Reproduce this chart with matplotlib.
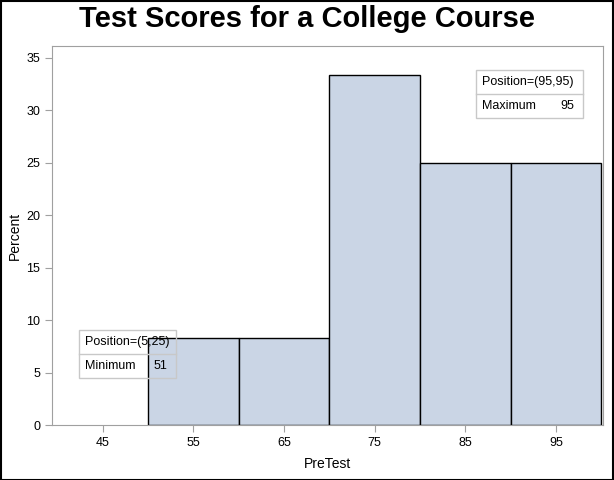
import matplotlib
matplotlib.use("Agg")
from matplotlib import pyplot as plt
from matplotlib.patches import Rectangle
from matplotlib.lines import Line2D

plt.rcParams["font.family"] = ["Liberation Sans", "DejaVu Sans"]

# histogram data
bin_mids = [55, 65, 75, 85, 95]
percents = [8.333, 8.333, 33.333, 25.0, 25.0]
bin_width = 10
x_ticks = [45, 55, 65, 75, 85, 95]
y_ticks = [0, 5, 10, 15, 20, 25, 30, 35]

fig = plt.figure(figsize=(6.14, 4.8), dpi=100)
ax = fig.add_axes([52 / 614, 1 - 425 / 480, (603 - 52) / 614, (425 - 46) / 480])

ax.bar(bin_mids, percents, width=bin_width, color="#cad5e5", edgecolor="black", linewidth=1, zorder=2)

ax.set_xlim(39.4, 100.2)
ax.set_ylim(0, 36.1)
ax.set_xticks(x_ticks)
ax.set_yticks(y_ticks)
ax.tick_params(colors="#a0a0a0", labelcolor="black", labelsize=9, length=5)
for s in ax.spines.values():
    s.set_color("#a0a0a0")
ax.set_xlabel("PreTest", fontsize=10, labelpad=6)
ax.set_ylabel("Percent", fontsize=10, labelpad=3)

fig.text(0.5, 1 - 19 / 480, "Test Scores for a College Course", ha="center", va="center",
         fontsize=21, fontweight="bold")


def inset_table(x0, y0, x1, y1, top_text, left_text, right_text):
    # coordinates in figure pixels (top-left origin)
    W, H = 614, 480
    tr = fig.transFigure
    box = Rectangle((x0 / W, 1 - y1 / H), (x1 - x0) / W, (y1 - y0) / H, transform=tr,
                    fill=False, edgecolor="#c8c8c8", linewidth=1, zorder=5)
    fig.add_artist(box)
    ym = (y0 + y1) / 2
    fig.add_artist(Line2D([x0 / W, x1 / W], [1 - ym / H, 1 - ym / H], transform=tr,
                          color="#c8c8c8", linewidth=1))
    fig.text((x0 + 6) / W, 1 - (y0 + ym) / 2 / H, top_text, fontsize=9, va="center")
    fig.text((x0 + 6) / W, 1 - (ym + y1) / 2 / H, left_text, fontsize=9, va="center")
    fig.text((x1 - 9) / W, 1 - (ym + y1) / 2 / H, right_text, fontsize=9, va="center", ha="right")


inset_table(79, 330, 176, 378, "Position=(5,25)", "Minimum", "51")
inset_table(476, 70, 583, 118, "Position=(95,95)", "Maximum", "95")

# outer frame
fig.add_artist(Rectangle((0.001, 0.001), 0.997, 0.997, transform=fig.transFigure,
                         fill=False, edgecolor="black", linewidth=1.5))

fig.savefig("out.png", dpi=100)
